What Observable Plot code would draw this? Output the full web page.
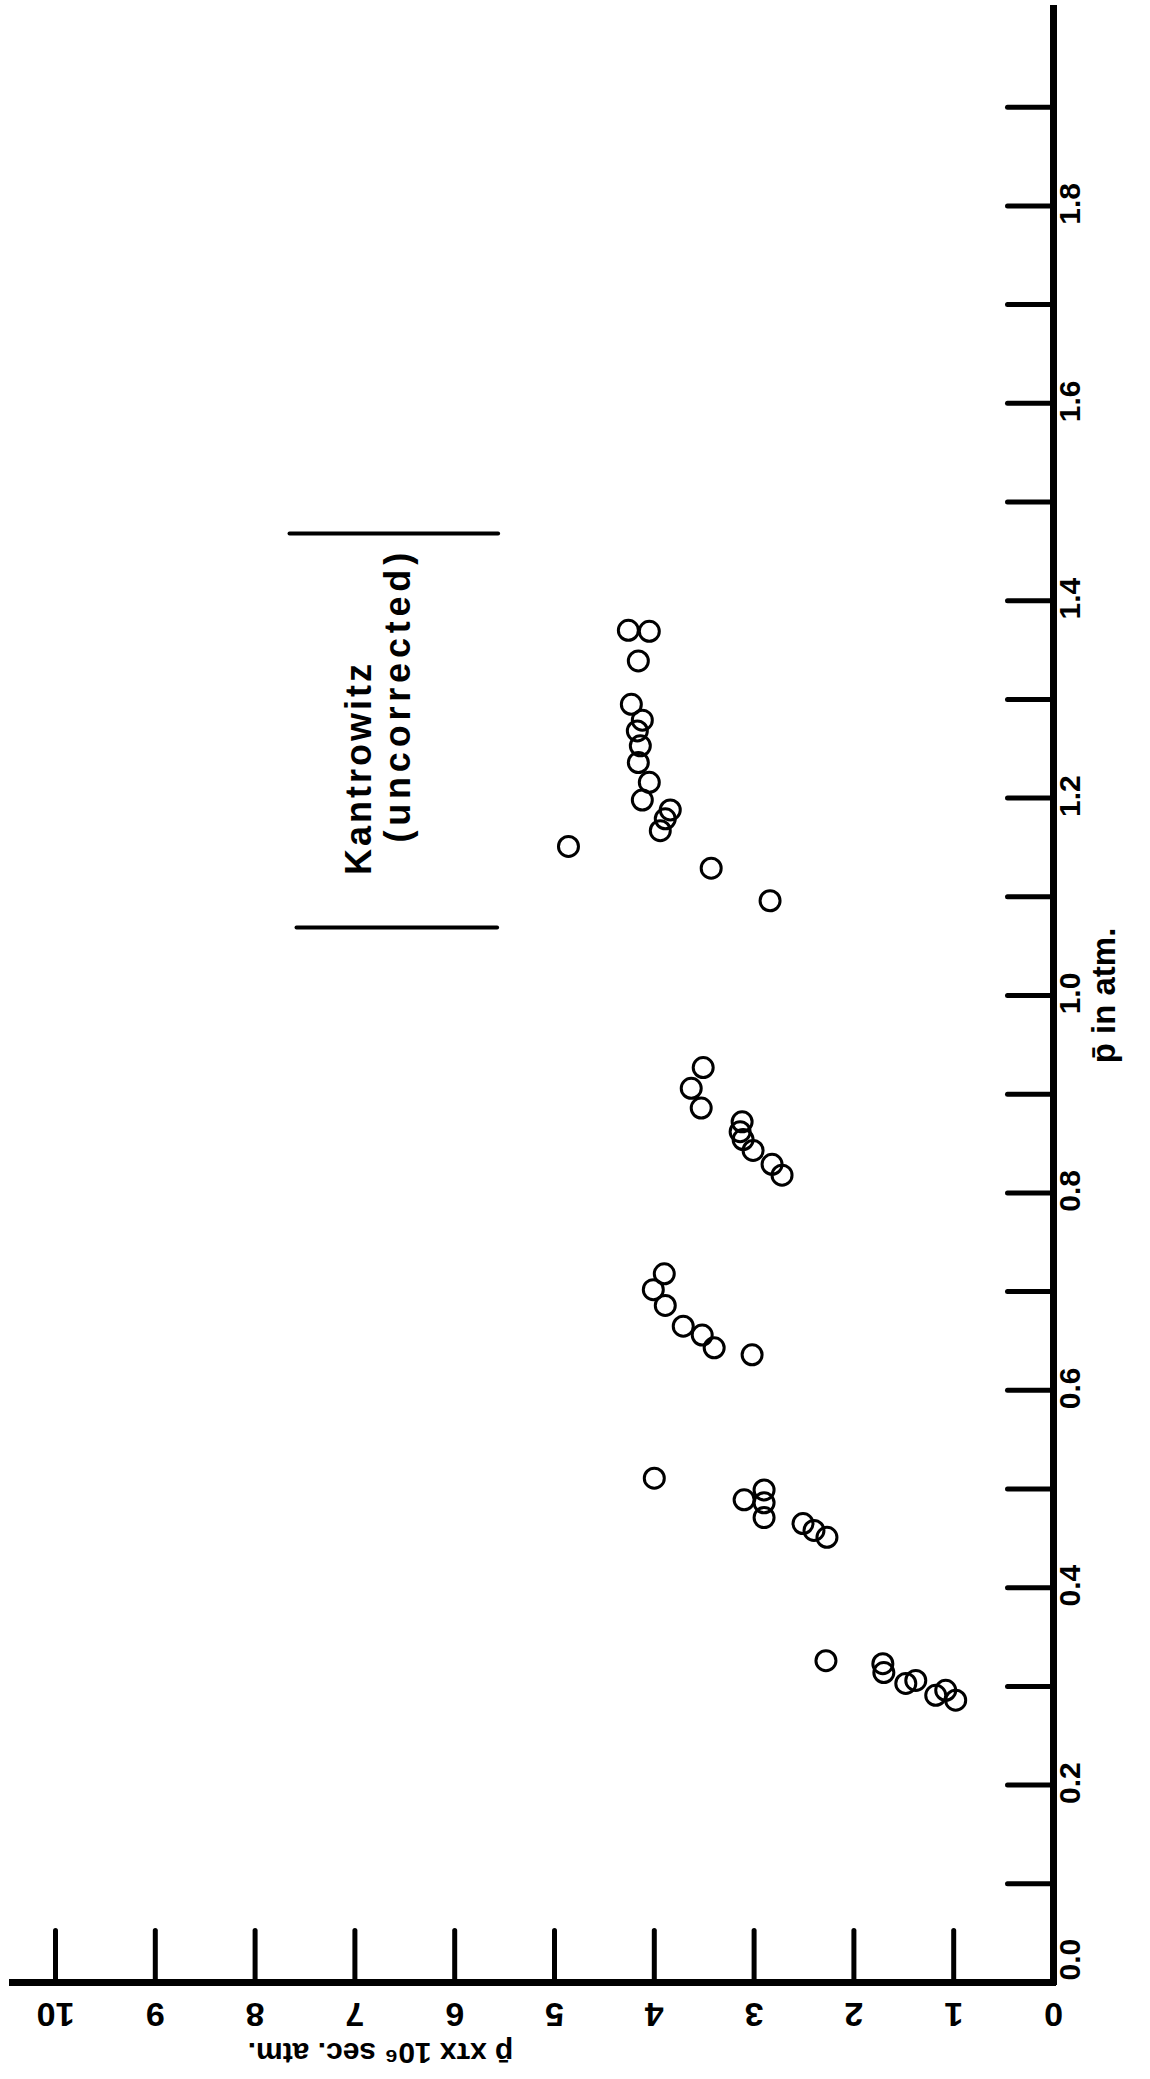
<!DOCTYPE html>
<html>
<head>
<meta charset="utf-8">
<script src="https://cdn.jsdelivr.net/npm/d3@7"></script>
<script src="https://cdn.jsdelivr.net/npm/@observablehq/plot@0.6"></script>
<style>
  html, body { margin: 0; padding: 0; background: #fff; }
  svg { display: block; }
</style>
</head>
<body>
<div id="chart"></div>
<script>
// p̄ × τ × 10^6 (sec. atm.) — horizontal quantity in the picture
const ptau = [
  4.26, 4.05, 4.16, 4.23, 4.12, 4.17, 4.14, 4.16, 4.05, 4.12, 3.84, 3.89, 3.94, 4.86, 3.43, 2.84,
  3.51, 3.63, 3.53, 3.12, 3.14, 3.11, 3.01, 2.82, 2.72,
  3.90, 4.01, 3.89, 3.71, 3.52, 3.40, 3.02, 4.00,
  3.10, 2.90, 2.90, 2.90, 2.51, 2.40, 2.27,
  2.28, 1.71, 1.70, 1.48, 1.38, 1.18, 1.08, 0.98
];
// p̄ in atm — vertical quantity in the picture
const pbar = [
  1.370, 1.369, 1.339, 1.295, 1.279, 1.268, 1.253, 1.236, 1.216, 1.198, 1.188, 1.179, 1.167, 1.151, 1.129, 1.096,
  0.927, 0.906, 0.886, 0.872, 0.862, 0.854, 0.843, 0.829, 0.818,
  0.718, 0.702, 0.686, 0.665, 0.656, 0.643, 0.636, 0.511,
  0.489, 0.499, 0.486, 0.471, 0.465, 0.458, 0.451,
  0.326, 0.323, 0.314, 0.303, 0.306, 0.291, 0.296, 0.286
];

const pTicks = [0.1,0.2,0.3,0.4,0.5,0.6,0.7,0.8,0.9,1.0,1.1,1.2,1.3,1.4,1.5,1.6,1.7,1.8,1.9];
const pTickLabels = ["0.2","0.4","0.6","0.8","1.0","1.2","1.4","1.6","1.8"];
const pZeroLabel = ["0.0"];
const ptauTicks = [1,2,3,4,5,6,7,8,9,10];
const ptauTickLabels = ["0","1","2","3","4","5","6","7","8","9","10"];

const xTitle = "p̄ xτx 10⁶ sec. atm.";
const yTitle = "p̄ in atm.";

// Kantrowitz (uncorrected) range markers
const bracketP = [1.069, 1.468];
const bracketFrom = [5.57, 5.56];
const bracketTo = [7.58, 7.65];
const noteText = ["Kantrowitz", "(uncorrected)"];
const notePtau = [6.84, 6.45];
const noteP = [1.122, 1.155];

const tickShape = { draw(context, l) { context.moveTo(0, 0); context.lineTo(0, -l); } };
const font = "'Liberation Sans', Arial, 'DejaVu Sans', sans-serif";

const idx = ptau.map((_, i) => i);
const bIdx = bracketP.map((_, i) => i);
const nIdx = noteText.map((_, i) => i);

const chart = Plot.plot({
  width: 1150,
  height: 2079,
  marginLeft: 55,
  marginRight: 97,
  marginTop: 8,
  marginBottom: 97,
  style: { fontFamily: font, background: "#fff", color: "#000" },
  x: { domain: [0, 10], reverse: true, axis: null },
  y: { domain: [0, 2], axis: null },
  marks: [
    // axis lines
    Plot.ruleY([0], { stroke: "#000", strokeWidth: 7, insetLeft: -46, insetRight: -3 }),
    Plot.ruleX([0], { stroke: "#000", strokeWidth: 7, insetTop: -3, insetBottom: -3 }),
    // ticks (drawn inward)
    Plot.vector(ptauTicks, {
      x: d => d, frameAnchor: "bottom", length: 52, rotate: 0, anchor: "start",
      shape: tickShape, stroke: "#000", strokeWidth: 5, strokeLinecap: "round"
    }),
    Plot.vector(pTicks, {
      y: d => d, frameAnchor: "right", length: 46, rotate: -90, anchor: "start",
      shape: tickShape, stroke: "#000", strokeWidth: 5, strokeLinecap: "round"
    }),
    // tick labels
    Plot.text(ptauTickLabels, {
      x: d => +d, text: d => d, frameAnchor: "bottom", dy: 20, rotate: 180,
      lineAnchor: "bottom", textAnchor: "middle", fontSize: 34, fontWeight: "bold", fill: "#000"
    }),
    Plot.text(pTickLabels, {
      y: d => +d, text: d => d, frameAnchor: "right", dx: 5, dy: -2, rotate: -90,
      lineAnchor: "top", textAnchor: "middle", fontSize: 30, fontWeight: "bold", fill: "#000",
      ariaLabel: "plabels"
    }),
    Plot.text(pZeroLabel, {
      y: d => +d, text: d => d, frameAnchor: "right", dx: 5, dy: -2, rotate: -90,
      lineAnchor: "top", textAnchor: "start", fontSize: 30, fontWeight: "bold", fill: "#000",
      ariaLabel: "plabels"
    }),
    // axis titles
    Plot.text([xTitle], {
      text: d => d, frameAnchor: "bottom", dx: -174, dy: 60, rotate: 180,
      lineAnchor: "bottom", textAnchor: "middle", fontSize: 30, fontWeight: "bold", fill: "#000",
      ariaLabel: "xtitle"
    }),
    Plot.text([yTitle], {
      text: d => d, frameAnchor: "right", dx: 38, dy: 0, rotate: -90,
      lineAnchor: "top", textAnchor: "middle", fontSize: 33, fontWeight: "bold", fill: "#000",
      ariaLabel: "ytitle"
    }),
    // Kantrowitz bracket
    Plot.ruleY(bIdx, {
      y: i => bracketP[i], x1: i => bracketFrom[i], x2: i => bracketTo[i],
      stroke: "#000", strokeWidth: 4, strokeLinecap: "round"
    }),
    Plot.text(nIdx, {
      x: i => notePtau[i], y: i => noteP[i], text: i => noteText[i], rotate: -90,
      textAnchor: "start", lineAnchor: "bottom", fontSize: 36, fontWeight: "bold", fill: "#000",
      ariaLabel: i => (i === 0 ? "note-a" : "note-b")
    }),
    // data
    Plot.dot(idx, {
      x: i => ptau[i], y: i => pbar[i], r: 10, stroke: "#000", strokeWidth: 3, fill: "none"
    })
  ]
});

const svg = d3.select(chart);
svg.selectAll('[aria-label="xtitle"]').style("letter-spacing", "2px");
svg.selectAll('[aria-label="ytitle"]').style("letter-spacing", "3px");
svg.selectAll('[aria-label="note-a"]').style("letter-spacing", "3px");
svg.selectAll('[aria-label="note-b"]').style("letter-spacing", "4.8px");
svg.selectAll('[aria-label="plabels"]').style("letter-spacing", "1px");

document.getElementById("chart").appendChild(chart);
</script>
</body>
</html>
